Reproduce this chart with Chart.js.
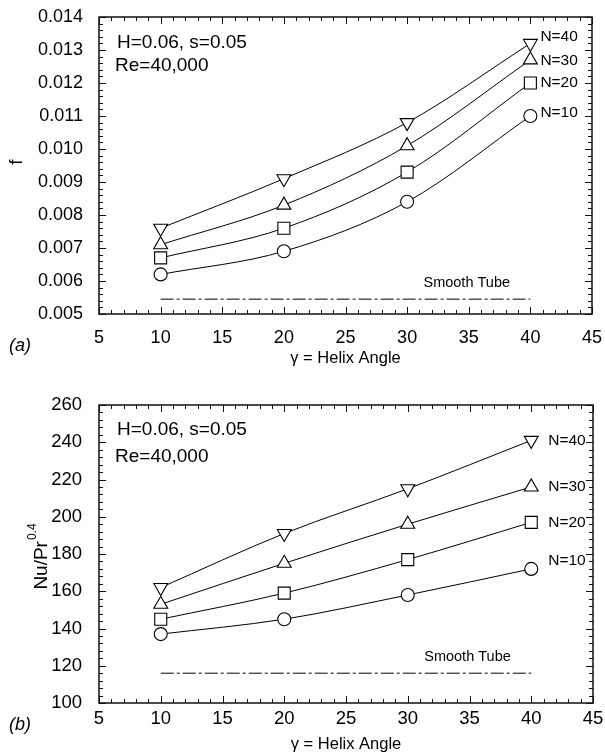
<!DOCTYPE html>
<html><head><meta charset="utf-8">
<script src="https://cdn.jsdelivr.net/npm/chart.js@4.4.1/dist/chart.umd.min.js"></script>
<style>
body{margin:0;background:#fff;width:605px;height:755px;overflow:hidden;position:relative}
.w{position:absolute;left:0;width:605px}
#wa{top:0;height:378px}
#wb{top:378px;height:377px}
</style></head><body>
<div class="w" id="wa"><canvas id="ca"></canvas></div>
<div class="w" id="wb"><canvas id="cb"></canvas></div>
<script>
// ---- data ----
const helixAngles = [10, 20, 30, 40];
const seriesNames = ['N=10', 'N=20', 'N=30', 'N=40'];
// (a) friction factor f
const fN10 = [0.0062, 0.0069, 0.0084, 0.0110];
const fN20 = [0.0067, 0.0076, 0.0093, 0.0120];
const fN30 = [0.0071, 0.0083, 0.0101, 0.0127];
const fN40 = [0.0076, 0.0091, 0.0108, 0.0132];
const fSmooth = [0.00545, 0.00545];
// (b) Nu/Pr^0.4
const nuN10 = [137, 145, 158, 172];
const nuN20 = [145, 159, 177, 197];
const nuN30 = [153, 175, 196, 216];
const nuN40 = [162, 191, 215, 241];
const nuSmooth = [116, 116];
const smoothRange = [10, 40];
// tick labels
const xTicks = [5, 10, 15, 20, 25, 30, 35, 40, 45];
const yTicksA = [0.005, 0.006, 0.007, 0.008, 0.009, 0.010, 0.011, 0.012, 0.013, 0.014];
const yTicksB = [100, 120, 140, 160, 180, 200, 220, 240, 260];

const FONT = '"Liberation Sans", Arial, sans-serif';
const styles = [
  {ps: 'circle', rot: 0, r: 6.5},
  {ps: 'rect', rot: 0, r: 8.5},
  {ps: 'triangle', rot: 0, r: 8},
  {ps: 'triangle', rot: 180, r: 8}
];

function series(label, ys, st) {
  return {
    label, data: helixAngles.map((a, i) => ({x: a, y: ys[i]})),
    borderColor: '#000', borderWidth: 1, fill: false,
    cubicInterpolationMode: 'monotone',
    pointStyle: st.ps, rotation: st.rot, pointRadius: st.r, pointHoverRadius: st.r,
    pointBorderWidth: 1.1, pointBorderColor: '#000', pointBackgroundColor: '#fff'
  };
}
function smooth(ys) {
  return {
    label: 'Smooth Tube', data: smoothRange.map((a, i) => ({x: a, y: ys[i]})),
    borderColor: '#000', borderWidth: 1, borderDash: [13, 3, 3, 3], pointRadius: 0, fill: false
  };
}

function seg(ctx, x1, y1, x2, y2) { ctx.beginPath(); ctx.moveTo(x1, y1); ctx.lineTo(x2, y2); ctx.stroke(); }

const framePlugin = {
  id: 'frame',
  afterDraw(chart, args, o) {
    const {ctx, chartArea: a, scales: {x, y}} = chart;
    ctx.save();
    ctx.strokeStyle = '#111'; ctx.lineWidth = 1;
    const xn = Math.round((x.max - x.min) / o.xMinor);
    for (let i = 0; i <= xn; i++) {
      const px = Math.round(x.getPixelForValue(x.min + i * o.xMinor)) + 0.5;
      const L = (i % o.xPer === 0) ? 7 : 4;
      seg(ctx, px, a.bottom, px, a.bottom - L);
      seg(ctx, px, a.top, px, a.top + L);
    }
    const yn = Math.round((y.max - y.min) / o.yMinor);
    for (let i = 0; i <= yn; i++) {
      const py = Math.round(y.getPixelForValue(y.min + i * o.yMinor)) + 0.5;
      const L = (i % o.yPer === 0) ? 7 : 4;
      seg(ctx, a.left, py, a.left + L, py);
      seg(ctx, a.right, py, a.right - L, py);
    }
    ctx.lineWidth = 1.5;
    ctx.strokeRect(a.left, a.top, a.width, a.height);
    ctx.fillStyle = '#000';
    ctx.textBaseline = 'middle';
    // series labels
    chart.data.datasets.forEach((ds, di) => {
      if (di >= seriesNames.length) return;
      const last = ds.data[ds.data.length - 1];
      ctx.font = '15.5px ' + FONT; ctx.textAlign = 'left';
      ctx.fillText(ds.label, x.getPixelForValue(last.x) + o.lblDx, y.getPixelForValue(last.y) + o.lblDy[di]);
    });
    // annotation
    ctx.font = '19px ' + FONT; ctx.textAlign = 'left';
    ctx.fillText('H=0.06, s=0.05', a.left + 18, a.top + o.hDy);
    ctx.fillText('Re=40,000', a.left + 16, a.top + o.reDy);
    // smooth tube label
    const sd = chart.data.datasets[seriesNames.length].data[0];
    ctx.font = '14.5px ' + FONT; ctx.textAlign = 'center';
    ctx.fillText('Smooth Tube', x.getPixelForValue(35) - 2, y.getPixelForValue(sd.y) - 16);
    // x title
    ctx.font = '16.5px ' + FONT; ctx.textAlign = 'center';
    ctx.fillText('\u03b3 = Helix Angle', (a.left + a.right) / 2, o.xTitleY);
    // panel letter
    ctx.font = 'italic 18px ' + FONT; ctx.textAlign = 'left';
    ctx.fillText(o.panel, 9, o.panelY);
    // y title
    ctx.save();
    ctx.translate(o.yTitleX, o.yTitleY);
    ctx.rotate(-Math.PI / 2);
    ctx.font = '19px ' + FONT;
    if (o.yTitleSup) {
      const w1 = ctx.measureText(o.yTitle).width;
      ctx.font = '12px ' + FONT;
      const w2 = ctx.measureText(o.yTitleSup).width;
      const start = -(w1 + w2) / 2;
      ctx.font = '19px ' + FONT; ctx.textAlign = 'left';
      ctx.fillText(o.yTitle, start, 0);
      ctx.font = '12px ' + FONT;
      ctx.fillText(o.yTitleSup, start + w1 + 1, -9);
    } else {
      ctx.textAlign = 'center';
      ctx.fillText(o.yTitle, 0, 0);
    }
    ctx.restore();
    ctx.restore();
  }
};

function makeChart(id, sets, smoothSet, yTicks, yMinor, pad, xHeight, xPad, yPad, fmt, tickSize, extra) {
  return new Chart(document.getElementById(id), {
    type: 'line',
    data: {datasets: [
      series(seriesNames[0], sets[0], styles[0]),
      series(seriesNames[1], sets[1], styles[1]),
      series(seriesNames[2], sets[2], styles[2]),
      series(seriesNames[3], sets[3], styles[3]),
      smooth(smoothSet)
    ]},
    options: {
      responsive: true, maintainAspectRatio: false, animation: false,
      events: [],
      layout: {padding: pad},
      plugins: {legend: {display: false}, tooltip: {enabled: false},
        frame: Object.assign({xMinor: 1, xPer: 5, yMinor: yMinor, yPer: 5, lblDx: 10}, extra)},
      scales: {
        x: {type: 'linear', min: xTicks[0], max: xTicks[xTicks.length - 1],
          grid: {display: false}, border: {display: false},
          afterBuildTicks: s => { s.ticks = xTicks.map(v => ({value: v})); },
          afterFit: s => { s.height = xHeight; s.paddingLeft = 0; s.paddingRight = 0; },
          ticks: {padding: xPad, color: '#000', font: {family: FONT, size: tickSize}, maxRotation: 0, autoSkip: false}},
        y: {type: 'linear', min: yTicks[0], max: yTicks[yTicks.length - 1],
          grid: {display: false}, border: {display: false},
          afterBuildTicks: s => { s.ticks = yTicks.map(v => ({value: v})); },
          afterFit: s => { s.width = 99; s.paddingTop = 0; s.paddingBottom = 0; },
          ticks: {padding: yPad, color: '#000', font: {family: FONT, size: tickSize}, callback: fmt, autoSkip: false}}
      }
    },
    plugins: [framePlugin]
  });
}

makeChart('ca', [fN10, fN20, fN30, fN40], fSmooth, yTicksA, 0.0002,
  {top: 17, right: 13, left: 0, bottom: 0}, 64, 5, 8, v => v.toFixed(3), 18,
  {lblDy: [-3, 0, 1, -7], hDy: 26, reDy: 49, xTitleY: 358, panel: '(a)', panelY: 346,
   yTitle: 'f', yTitleX: 17, yTitleY: 162});

makeChart('cb', [nuN10, nuN20, nuN30, nuN40], nuSmooth, yTicksB, 4,
  {top: 27, right: 12, left: 0, bottom: 0}, 52, -3, 9, v => String(v), 18.5,
  {lblDx: 17, lblDy: [-8, 0, 0, 0], hDy: 25, reDy: 52, xTitleY: 366, panel: '(b)', panelY: 347,
   yTitle: 'Nu/Pr', yTitleSup: '0.4', yTitleX: 42, yTitleY: 179});
</script>
</body></html>
